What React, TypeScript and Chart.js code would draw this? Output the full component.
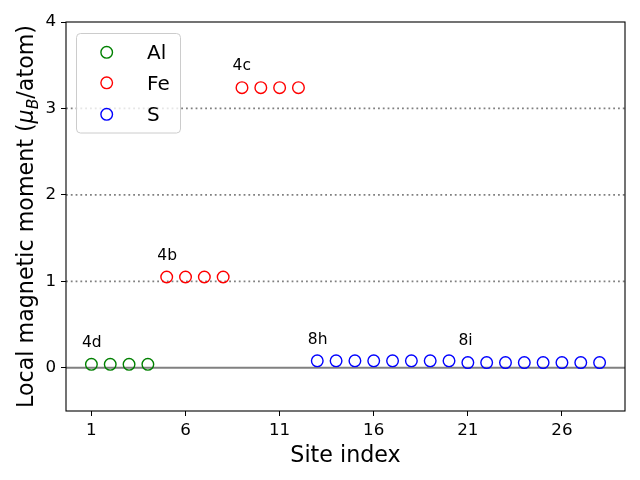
import React, { useEffect, useRef } from "react";
import { Chart, registerables } from "chart.js";
Chart.register(...registerables);

const alSites = [1, 2, 3, 4];
const alMoments = [0.04, 0.04, 0.04, 0.04];
const feSites = [5, 6, 7, 8, 9, 10, 11, 12];
const feMoments = [1.05, 1.05, 1.05, 1.05, 3.24, 3.24, 3.24, 3.24];
const sSites = [13, 14, 15, 16, 17, 18, 19, 20, 21, 22, 23, 24, 25, 26, 27, 28];
const sMoments = [0.08, 0.08, 0.08, 0.08, 0.08, 0.08, 0.08, 0.08, 0.06, 0.06, 0.06, 0.06, 0.06, 0.06, 0.06, 0.06];
const xTicks = [1, 6, 11, 16, 21, 26];
const yTicks = [0, 1, 2, 3, 4];
const dottedLevels = [1, 2, 3];
const solidLevels = [0];
const siteLabels = ["4d", "4b", "4c", "8h", "8i"];
const siteLabelX = [0.5, 4.5, 8.5, 12.5, 20.5];
const siteLabelY = [0.24, 1.25, 3.44, 0.28, 0.26];
const seriesNames = ["Al", "Fe", "S"];
const seriesColors = ["#008000", "#ff0000", "#0000ff"];

const FONT = "'DejaVu Sans', sans-serif";

const decorPlugin = {
  id: "decor",
  beforeDatasetsDraw(chart: any) {
    const { ctx, chartArea, scales } = chart;
    const y = scales.y;
    ctx.save();
    ctx.beginPath();
    ctx.rect(chartArea.left, chartArea.top, chartArea.right - chartArea.left, chartArea.bottom - chartArea.top);
    ctx.clip();
    ctx.strokeStyle = "#808080";
    ctx.lineWidth = 1.8;
    ctx.setLineDash([1.8, 3.0]);
    for (const v of dottedLevels) {
      const py = y.getPixelForValue(v);
      ctx.beginPath();
      ctx.moveTo(chartArea.left, py);
      ctx.lineTo(chartArea.right, py);
      ctx.stroke();
    }
    ctx.setLineDash([]);
    ctx.lineWidth = 2;
    for (const v of solidLevels) {
      const py = y.getPixelForValue(v);
      ctx.beginPath();
      ctx.moveTo(chartArea.left, py);
      ctx.lineTo(chartArea.right, py);
      ctx.stroke();
    }
    ctx.restore();
  },
  afterDraw(chart: any) {
    const { ctx, chartArea, scales } = chart;
    const x = scales.x;
    const y = scales.y;
    ctx.save();
    // spines
    ctx.strokeStyle = "#000";
    ctx.lineWidth = 1.1;
    ctx.strokeRect(chartArea.left, chartArea.top, chartArea.right - chartArea.left, chartArea.bottom - chartArea.top);

    // site annotations
    ctx.fillStyle = "#000";
    ctx.font = `15.5px ${FONT}`;
    ctx.textAlign = "left";
    ctx.textBaseline = "alphabetic";
    siteLabels.forEach((t, i) => {
      ctx.fillText(t, x.getPixelForValue(siteLabelX[i]), y.getPixelForValue(siteLabelY[i]));
    });

    // legend
    const lx = 76.5, ly = 33.5, lw = 104, lh = 99.5;
    ctx.beginPath();
    (ctx as any).roundRect(lx, ly, lw, lh, 4);
    ctx.fillStyle = "rgba(255,255,255,0.8)";
    ctx.fill();
    ctx.strokeStyle = "#cccccc";
    ctx.lineWidth = 1;
    ctx.stroke();
    const rowY = [52.3, 82.8, 114.3];
    seriesNames.forEach((name, i) => {
      ctx.beginPath();
      ctx.arc(106.7, rowY[i], 5.8, 0, Math.PI * 2);
      ctx.strokeStyle = seriesColors[i];
      ctx.lineWidth = 1.4;
      ctx.stroke();
      ctx.fillStyle = "#000";
      ctx.font = `20px ${FONT}`;
      ctx.textAlign = "left";
      ctx.textBaseline = "alphabetic";
      ctx.fillText(name, 147, rowY[i] + 7);
    });

    // x title
    ctx.fillStyle = "#000";
    ctx.font = `22.2px ${FONT}`;
    ctx.textAlign = "center";
    ctx.textBaseline = "alphabetic";
    ctx.fillText("Site index", (chartArea.left + chartArea.right) / 2, 461.5);

    // y title (rotated)
    const cy = (chartArea.top + chartArea.bottom) / 2;
    ctx.translate(33, cy);
    ctx.rotate(-Math.PI / 2);
    const big = `22.2px ${FONT}`;
    const bigIt = `italic 22.2px ${FONT}`;
    const small = `italic 15.5px ${FONT}`;
    const parts: [string, string, number][] = [
      ["Local magnetic moment (", big, 0],
      ["\u03bc", bigIt, 0],
      ["B", small, 4.5],
      ["/atom)", big, 0],
    ];
    let total = 0;
    for (const [t, f] of parts) {
      ctx.font = f;
      total += ctx.measureText(t).width;
    }
    let cx = -total / 2;
    ctx.textAlign = "left";
    for (const [t, f, dy] of parts) {
      ctx.font = f;
      ctx.fillText(t, cx, dy);
      cx += ctx.measureText(t).width;
    }
    ctx.restore();
  },
};

export default function App() {
  const ref = useRef<HTMLCanvasElement | null>(null);
  useEffect(() => {
    if (!ref.current) return;
    const mk = (xs: number[], ys: number[]) => xs.map((v, i) => ({ x: v, y: ys[i] }));
    const sets = [mk(alSites, alMoments), mk(feSites, feMoments), mk(sSites, sMoments)];
    const chart = new Chart(ref.current, {
      type: "scatter",
      data: {
        datasets: sets.map((d, i) => ({
          label: seriesNames[i],
          data: d,
          pointStyle: "circle",
          pointRadius: 5.8,
          pointBorderWidth: 1.4,
          borderWidth: 1.4,
          borderColor: seriesColors[i],
          pointBorderColor: seriesColors[i],
          backgroundColor: "rgba(0,0,0,0)",
          pointBackgroundColor: "rgba(0,0,0,0)",
        })),
      },
      options: {
        animation: false,
        responsive: false,
        devicePixelRatio: 1,
        layout: { padding: { top: 22, right: 15, bottom: 0, left: 0 } },
        plugins: { legend: { display: false }, tooltip: { enabled: false } },
        scales: {
          x: {
            type: "linear",
            min: -0.35,
            max: 29.35,
            afterBuildTicks: (s: any) => {
              s.ticks = xTicks.map((v) => ({ value: v }));
            },
            afterFit: (s: any) => {
              s.height = 69;
            },
            ticks: {
              color: "#000",
              font: { family: FONT, size: 16.7 },
              padding: 5,
              maxRotation: 0,
              autoSkip: false,
            },
            grid: { drawOnChartArea: false, color: "#000", tickLength: 5, tickWidth: 1 },
            border: { display: false },
          },
          y: {
            type: "linear",
            min: -0.5,
            max: 4,
            afterBuildTicks: (s: any) => {
              s.ticks = yTicks.map((v) => ({ value: v }));
            },
            afterFit: (s: any) => {
              s.width = 66;
            },
            ticks: {
              color: "#000",
              font: { family: FONT, size: 16.7 },
              padding: 5,
              autoSkip: false,
            },
            grid: { drawOnChartArea: false, color: "#000", tickLength: 5, tickWidth: 1 },
            border: { display: false },
          },
        },
      },
      plugins: [decorPlugin],
    });
    return () => chart.destroy();
  }, []);
  return (
    <div style={{ position: "fixed", left: 0, top: 0, width: 640, height: 480, background: "#fff" }}>
      <canvas ref={ref} width={640} height={480} style={{ width: 640, height: 480, display: "block" }} />
    </div>
  );
}
